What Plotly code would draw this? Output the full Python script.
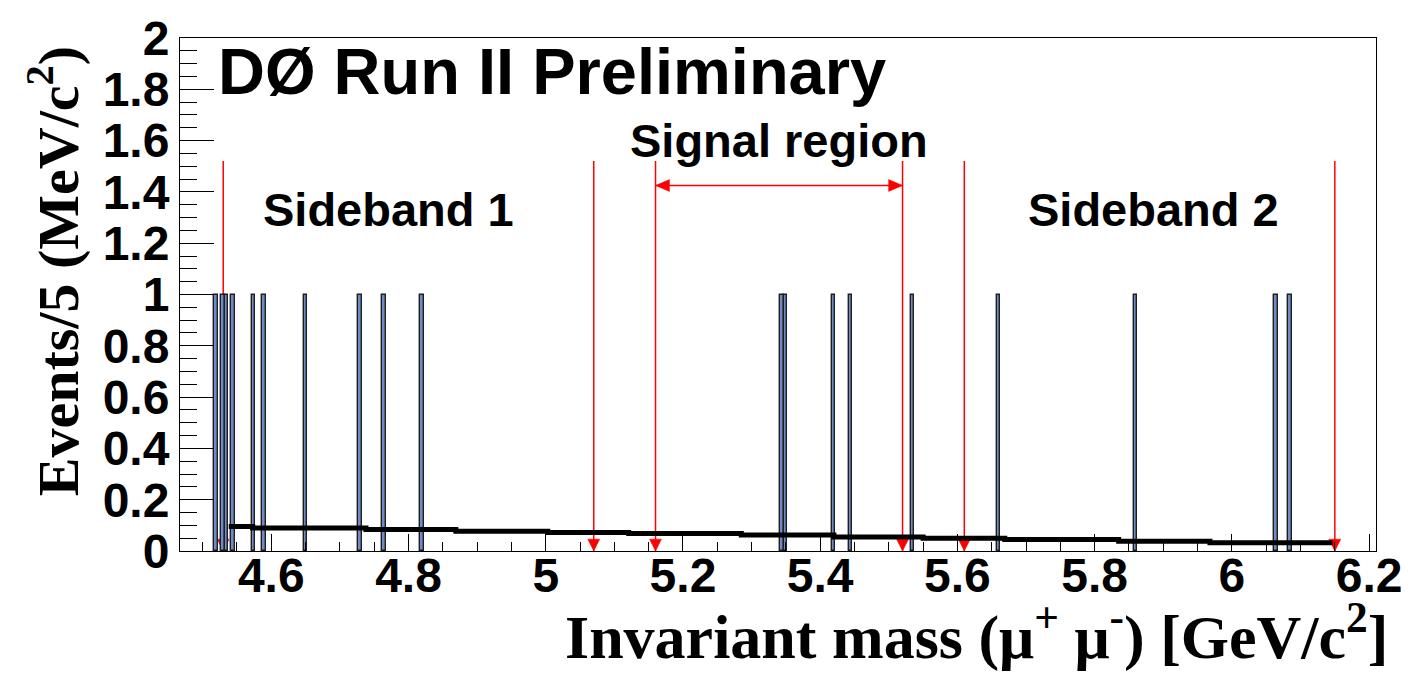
import plotly.graph_objects as go

# Dimuon candidates, invariant mass in GeV/c^2
event_masses = [4.5195, 4.5295, 4.5345, 4.5445, 4.5745, 4.5895, 4.6495, 4.7295,
                4.7645, 4.8195, 5.3445, 5.3495, 5.4195, 5.4445, 5.5345, 5.6595,
                5.8595, 6.0645, 6.0845]

# Background fit (as drawn, step boundaries and levels)
fit_x = [4.538, 4.573, 4.738, 4.869, 5.003, 5.121, 5.285, 5.420, 5.550,
         5.669, 5.835, 5.968, 6.147]
fit_y = [0.096, 0.090, 0.084, 0.077, 0.072, 0.068, 0.062, 0.055, 0.050,
         0.045, 0.038, 0.032, 0.032]

# Mass windows
sideband_1 = (4.53, 5.07)
signal_region = (5.16, 5.52)
sideband_2 = (5.61, 6.15)
marker_top = 1.52
signal_arrow_y = 1.425

x_range = [4.467, 6.21]
y_range = [0, 2]
bin_size = 0.005

x_ticks = [4.6, 4.8, 5.0, 5.2, 5.4, 5.6, 5.8, 6.0, 6.2]
x_tick_text = ["4.6", "4.8", "5", "5.2", "5.4", "5.6", "5.8", "6", "6.2"]
y_ticks = [0, 0.2, 0.4, 0.6, 0.8, 1, 1.2, 1.4, 1.6, 1.8, 2]
y_tick_text = ["0", "0.2", "0.4", "0.6", "0.8", "1", "1.2", "1.4", "1.6", "1.8", "2"]

W, H = 1414, 675
margin = dict(l=180, r=30, t=31, b=124)
plot_w = W - margin["l"] - margin["r"]
plot_h = H - margin["t"] - margin["b"]
px_x = plot_w / (x_range[1] - x_range[0])
px_y = plot_h / (y_range[1] - y_range[0])

SANS = "Arial, Liberation Sans, sans-serif"
SERIF = "Times New Roman, Liberation Serif, serif"
RED = "#ff0000"

fig = go.Figure()

fig.add_trace(go.Histogram(
    x=event_masses,
    xbins=dict(start=x_range[0], end=x_range[1], size=bin_size),
    marker=dict(color="#6f8bc8", line=dict(color="#1e1e1e", width=1.4)),
    showlegend=False,
))

fig.add_trace(go.Scatter(
    x=fit_x, y=fit_y, mode="lines", line_shape="hv",
    line=dict(color="black", width=5), showlegend=False,
))

shapes = []
# vertical boundary markers with down-pointing heads at zero
head_dx = 6 / px_x
head_dy = 12 / px_y
for xb in [sideband_1[0], sideband_1[1], signal_region[0], signal_region[1],
           sideband_2[0], sideband_2[1]]:
    shapes.append(dict(type="line", xref="x", yref="y", x0=xb, x1=xb,
                       y0=0, y1=marker_top, line=dict(color=RED, width=1.5),
                       layer="between"))
    shapes.append(dict(type="path", xref="x", yref="y",
                       path=f"M {xb - head_dx},{head_dy} L {xb + head_dx},{head_dy} L {xb},0 Z",
                       fillcolor=RED, line=dict(color=RED, width=0.5),
                       layer="between"))

# double-headed arrow across the signal region
ah_len = 14 / px_x
ah_half = 6 / px_y
s0, s1 = signal_region
shapes.append(dict(type="line", xref="x", yref="y", x0=s0, x1=s1,
                   y0=signal_arrow_y, y1=signal_arrow_y,
                   line=dict(color=RED, width=1.5)))
shapes.append(dict(type="path", xref="x", yref="y",
                   path=(f"M {s0},{signal_arrow_y} L {s0 + ah_len},{signal_arrow_y + ah_half} "
                         f"L {s0 + ah_len},{signal_arrow_y - ah_half} Z"),
                   fillcolor=RED, line=dict(color=RED, width=0.5)))
shapes.append(dict(type="path", xref="x", yref="y",
                   path=(f"M {s1},{signal_arrow_y} L {s1 - ah_len},{signal_arrow_y + ah_half} "
                         f"L {s1 - ah_len},{signal_arrow_y - ah_half} Z"),
                   fillcolor=RED, line=dict(color=RED, width=0.5)))

annotations = [
    dict(text="DØ Run II Preliminary", x=4.520, y=1.87, xref="x", yref="y",
         xanchor="left", yanchor="middle", showarrow=False,
         font=dict(family=SANS, size=65, color="black", weight="bold")),
    dict(text="Signal region", x=sum(signal_region) / 2, y=1.60, xref="x", yref="y",
         xanchor="center", yanchor="middle", showarrow=False,
         font=dict(family=SANS, size=47, color="black", weight="bold")),
    dict(text="Sideband 1", x=4.771, y=1.33, xref="x", yref="y",
         xanchor="center", yanchor="middle", showarrow=False,
         font=dict(family=SANS, size=47, color="black", weight="bold")),
    dict(text="Sideband 2", x=5.886, y=1.33, xref="x", yref="y",
         xanchor="center", yanchor="middle", showarrow=False,
         font=dict(family=SANS, size=47, color="black", weight="bold")),
    dict(text="Events/5 (MeV/c<sup>2</sup>)", x=-0.1055, y=0.545,
         xref="paper", yref="paper", textangle=-90,
         xanchor="center", yanchor="middle", showarrow=False,
         font=dict(family=SERIF, size=58, color="black", weight="bold")),
    dict(text="Invariant mass (μ<sup>+</sup> μ<sup>-</sup>) [GeV/c<sup>2</sup>]",
         x=1.012, y=-0.158, xref="paper", yref="paper",
         xanchor="right", yanchor="middle", showarrow=False,
         font=dict(family=SERIF, size=62, color="black", weight="bold")),
]

fig.update_layout(
    width=W, height=H, margin=margin,
    paper_bgcolor="white", plot_bgcolor="white",
    shapes=shapes, annotations=annotations,
    bargap=0, showlegend=False,
)

fig.update_xaxes(
    range=x_range, showgrid=False, zeroline=False,
    showline=True, linecolor="black", linewidth=1, mirror=True,
    ticks="inside", ticklen=17, tickwidth=1, tickcolor="black",
    tickvals=x_ticks, ticktext=x_tick_text, ticklabelstandoff=-18,
    tickfont=dict(family=SANS, size=48, color="black", weight="bold"),
    minor=dict(dtick=0.05, tick0=4.6, ticks="inside", ticklen=9,
               tickwidth=1, tickcolor="black", showgrid=False),
)
fig.update_yaxes(
    range=y_range, showgrid=False, zeroline=False,
    showline=True, linecolor="black", linewidth=1, mirror=True,
    ticks="inside", ticklen=34, tickwidth=1, tickcolor="black",
    tickvals=y_ticks, ticktext=y_tick_text,
    tickfont=dict(family=SANS, size=48, color="black", weight="bold"),
    minor=dict(dtick=0.05, tick0=0, ticks="inside", ticklen=17,
               tickwidth=1, tickcolor="black", showgrid=False),
)

fig.write_html("out.html")
